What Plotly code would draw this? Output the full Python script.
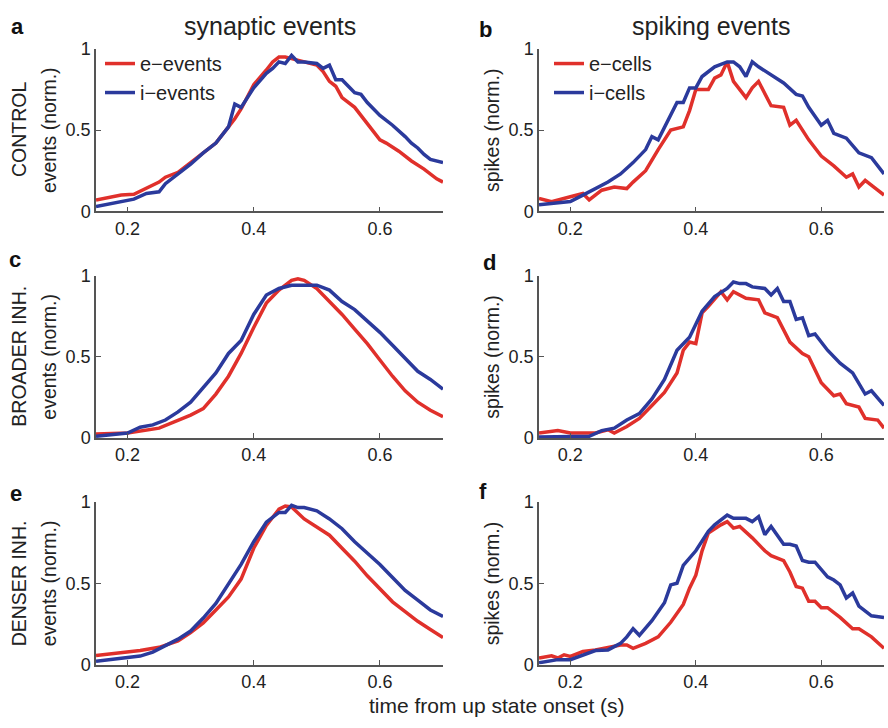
import plotly.graph_objects as go
from plotly.subplots import make_subplots

# ---------------- data ----------------
# panel a (CONTROL, synaptic events)
a_e_x = [0.15, 0.17, 0.19, 0.21, 0.23, 0.25, 0.26, 0.28, 0.30, 0.32, 0.34, 0.36, 0.37, 0.38, 0.40, 0.42, 0.43, 0.44, 0.45, 0.46, 0.47, 0.49, 0.50, 0.51, 0.52, 0.53, 0.54, 0.56, 0.58, 0.60, 0.61, 0.63, 0.65, 0.67, 0.69, 0.70]
a_e_y = [0.07, 0.085, 0.10, 0.105, 0.14, 0.18, 0.21, 0.24, 0.30, 0.36, 0.42, 0.52, 0.57, 0.63, 0.78, 0.87, 0.92, 0.95, 0.95, 0.94, 0.93, 0.91, 0.90, 0.86, 0.80, 0.77, 0.70, 0.64, 0.54, 0.44, 0.42, 0.37, 0.31, 0.26, 0.20, 0.18]
a_i_x = [0.15, 0.17, 0.19, 0.21, 0.23, 0.25, 0.26, 0.28, 0.30, 0.32, 0.34, 0.36, 0.37, 0.38, 0.40, 0.42, 0.43, 0.44, 0.45, 0.46, 0.47, 0.48, 0.50, 0.51, 0.52, 0.53, 0.54, 0.55, 0.56, 0.57, 0.58, 0.60, 0.62, 0.64, 0.65, 0.66, 0.67, 0.68, 0.69, 0.70]
a_i_y = [0.03, 0.045, 0.06, 0.075, 0.11, 0.12, 0.17, 0.23, 0.29, 0.36, 0.42, 0.52, 0.66, 0.64, 0.76, 0.85, 0.88, 0.92, 0.91, 0.96, 0.92, 0.92, 0.91, 0.88, 0.90, 0.81, 0.81, 0.77, 0.73, 0.72, 0.67, 0.59, 0.53, 0.46, 0.42, 0.39, 0.35, 0.32, 0.31, 0.30]

# panel b (CONTROL, spiking events)
b_e_x = [0.15, 0.17, 0.20, 0.22, 0.23, 0.25, 0.27, 0.29, 0.30, 0.32, 0.34, 0.36, 0.38, 0.39, 0.40, 0.42, 0.43, 0.44, 0.45, 0.46, 0.48, 0.49, 0.50, 0.52, 0.54, 0.55, 0.56, 0.58, 0.60, 0.62, 0.64, 0.65, 0.66, 0.67, 0.69, 0.70]
b_e_y = [0.08, 0.06, 0.09, 0.11, 0.07, 0.13, 0.15, 0.14, 0.18, 0.25, 0.38, 0.50, 0.52, 0.62, 0.75, 0.75, 0.82, 0.84, 0.92, 0.80, 0.70, 0.76, 0.80, 0.65, 0.64, 0.53, 0.56, 0.44, 0.34, 0.28, 0.21, 0.23, 0.15, 0.19, 0.13, 0.10]
b_i_x = [0.15, 0.18, 0.20, 0.22, 0.24, 0.26, 0.28, 0.30, 0.32, 0.33, 0.34, 0.36, 0.37, 0.38, 0.39, 0.40, 0.41, 0.43, 0.45, 0.46, 0.47, 0.48, 0.49, 0.50, 0.52, 0.54, 0.56, 0.57, 0.58, 0.60, 0.61, 0.62, 0.64, 0.66, 0.68, 0.69, 0.70]
b_i_y = [0.04, 0.05, 0.06, 0.10, 0.14, 0.18, 0.23, 0.30, 0.38, 0.46, 0.44, 0.60, 0.67, 0.67, 0.76, 0.76, 0.83, 0.89, 0.92, 0.92, 0.89, 0.83, 0.92, 0.89, 0.84, 0.79, 0.72, 0.71, 0.64, 0.53, 0.56, 0.48, 0.45, 0.36, 0.33, 0.28, 0.23]

# panel c (BROADER INH., synaptic events)
c_e_x = [0.15, 0.20, 0.25, 0.28, 0.30, 0.32, 0.34, 0.36, 0.38, 0.40, 0.42, 0.44, 0.46, 0.47, 0.48, 0.50, 0.52, 0.54, 0.56, 0.58, 0.60, 0.62, 0.64, 0.66, 0.68, 0.70]
c_e_y = [0.024, 0.03, 0.06, 0.11, 0.14, 0.18, 0.27, 0.38, 0.52, 0.68, 0.83, 0.91, 0.97, 0.98, 0.97, 0.92, 0.84, 0.76, 0.67, 0.58, 0.48, 0.38, 0.29, 0.22, 0.17, 0.13]
c_i_x = [0.15, 0.20, 0.22, 0.24, 0.26, 0.28, 0.30, 0.32, 0.34, 0.36, 0.38, 0.40, 0.42, 0.44, 0.46, 0.48, 0.50, 0.52, 0.54, 0.56, 0.58, 0.60, 0.62, 0.64, 0.66, 0.68, 0.70]
c_i_y = [0.01, 0.03, 0.066, 0.08, 0.11, 0.16, 0.22, 0.31, 0.40, 0.52, 0.60, 0.76, 0.88, 0.92, 0.94, 0.94, 0.94, 0.91, 0.84, 0.79, 0.72, 0.65, 0.57, 0.49, 0.41, 0.36, 0.30]

# panel d (BROADER INH., spiking events)
d_e_x = [0.15, 0.18, 0.20, 0.22, 0.24, 0.26, 0.27, 0.29, 0.31, 0.33, 0.35, 0.37, 0.38, 0.39, 0.40, 0.41, 0.42, 0.44, 0.45, 0.46, 0.48, 0.50, 0.51, 0.53, 0.55, 0.57, 0.58, 0.60, 0.62, 0.63, 0.64, 0.66, 0.67, 0.69, 0.70]
d_e_y = [0.03, 0.045, 0.03, 0.03, 0.03, 0.05, 0.03, 0.07, 0.12, 0.20, 0.28, 0.40, 0.54, 0.59, 0.58, 0.77, 0.81, 0.90, 0.85, 0.90, 0.86, 0.85, 0.77, 0.74, 0.59, 0.52, 0.50, 0.34, 0.26, 0.27, 0.21, 0.19, 0.12, 0.11, 0.06]
d_i_x = [0.15, 0.20, 0.23, 0.25, 0.27, 0.29, 0.31, 0.33, 0.35, 0.37, 0.39, 0.41, 0.43, 0.45, 0.46, 0.47, 0.48, 0.49, 0.51, 0.52, 0.53, 0.54, 0.55, 0.56, 0.57, 0.58, 0.59, 0.61, 0.63, 0.65, 0.67, 0.68, 0.70]
d_i_y = [0.006, 0.01, 0.01, 0.045, 0.06, 0.11, 0.15, 0.24, 0.36, 0.54, 0.62, 0.78, 0.87, 0.92, 0.96, 0.95, 0.95, 0.93, 0.92, 0.88, 0.92, 0.84, 0.84, 0.73, 0.74, 0.63, 0.64, 0.54, 0.46, 0.40, 0.27, 0.29, 0.20]

# panel e (DENSER INH., synaptic events)
e_e_x = [0.15, 0.18, 0.20, 0.22, 0.25, 0.28, 0.30, 0.32, 0.34, 0.36, 0.38, 0.40, 0.42, 0.44, 0.45, 0.46, 0.48, 0.50, 0.52, 0.54, 0.56, 0.58, 0.60, 0.62, 0.64, 0.66, 0.68, 0.70]
e_e_y = [0.056, 0.07, 0.076, 0.086, 0.106, 0.146, 0.196, 0.256, 0.336, 0.416, 0.526, 0.716, 0.856, 0.956, 0.976, 0.97, 0.896, 0.846, 0.796, 0.716, 0.636, 0.546, 0.466, 0.386, 0.326, 0.266, 0.216, 0.166]
e_i_x = [0.15, 0.18, 0.20, 0.22, 0.24, 0.26, 0.28, 0.30, 0.32, 0.34, 0.36, 0.38, 0.40, 0.42, 0.44, 0.45, 0.46, 0.47, 0.48, 0.50, 0.52, 0.54, 0.56, 0.58, 0.60, 0.62, 0.64, 0.66, 0.68, 0.70]
e_i_y = [0.02, 0.032, 0.04, 0.052, 0.076, 0.116, 0.156, 0.206, 0.286, 0.376, 0.496, 0.616, 0.756, 0.876, 0.936, 0.936, 0.98, 0.966, 0.966, 0.946, 0.896, 0.836, 0.756, 0.686, 0.616, 0.536, 0.456, 0.396, 0.336, 0.296]

# panel f (DENSER INH., spiking events)
f_e_x = [0.15, 0.17, 0.18, 0.19, 0.20, 0.22, 0.24, 0.26, 0.28, 0.29, 0.30, 0.32, 0.34, 0.36, 0.38, 0.39, 0.40, 0.41, 0.42, 0.44, 0.45, 0.46, 0.47, 0.49, 0.51, 0.52, 0.54, 0.55, 0.56, 0.57, 0.58, 0.59, 0.60, 0.61, 0.63, 0.65, 0.66, 0.68, 0.70]
f_e_y = [0.04, 0.054, 0.04, 0.06, 0.05, 0.08, 0.09, 0.106, 0.12, 0.12, 0.10, 0.13, 0.17, 0.26, 0.37, 0.47, 0.55, 0.70, 0.81, 0.86, 0.88, 0.84, 0.85, 0.78, 0.70, 0.67, 0.64, 0.57, 0.48, 0.47, 0.39, 0.39, 0.35, 0.35, 0.29, 0.22, 0.22, 0.17, 0.10]
f_i_x = [0.15, 0.18, 0.20, 0.22, 0.24, 0.26, 0.28, 0.29, 0.30, 0.31, 0.33, 0.35, 0.36, 0.37, 0.38, 0.40, 0.42, 0.43, 0.45, 0.46, 0.48, 0.49, 0.50, 0.51, 0.52, 0.54, 0.55, 0.56, 0.57, 0.58, 0.59, 0.61, 0.62, 0.63, 0.64, 0.65, 0.66, 0.68, 0.70]
f_i_y = [0.01, 0.03, 0.03, 0.06, 0.086, 0.09, 0.13, 0.17, 0.22, 0.18, 0.27, 0.38, 0.49, 0.50, 0.61, 0.70, 0.82, 0.86, 0.92, 0.90, 0.90, 0.88, 0.91, 0.80, 0.85, 0.74, 0.74, 0.73, 0.64, 0.63, 0.63, 0.54, 0.52, 0.49, 0.41, 0.44, 0.36, 0.30, 0.29]

series_names_left = ["e−events", "i−events"]
series_names_right = ["e−cells", "i−cells"]
row_labels = ["CONTROL", "BROADER INH.", "DENSER INH."]
col_titles = ["synaptic events", "spiking events"]
y_titles = ["events (norm.)", "spikes (norm.)"]
panel_letters = ["a", "b", "c", "d", "e", "f"]
x_tickvals = [0.2, 0.4, 0.6]
x_ticktext = ["0.2", "0.4", "0.6"]
y_tickvals = [0, 0.5, 1]
y_ticktext = ["0", "0.5", "1"]
x_title = "time from up state onset (s)"

# ---------------- figure ----------------
W, H = 888, 728
RED = "#e0302b"
BLUE = "#2b3a9c"
FONT = "Liberation Sans, Arial, Helvetica, sans-serif"
TXT = "#222222"

fig = make_subplots(rows=3, cols=2)

panels = [
    (1, 1, a_e_x, a_e_y, a_i_x, a_i_y),
    (1, 2, b_e_x, b_e_y, b_i_x, b_i_y),
    (2, 1, c_e_x, c_e_y, c_i_x, c_i_y),
    (2, 2, d_e_x, d_e_y, d_i_x, d_i_y),
    (3, 1, e_e_x, e_e_y, e_i_x, e_i_y),
    (3, 2, f_e_x, f_e_y, f_i_x, f_i_y),
]

for (r, c, ex, ey, ix, iy) in panels:
    names = series_names_left if c == 1 else series_names_right
    first = (r == 1)
    leg = "legend" if c == 1 else "legend2"
    fig.add_trace(go.Scatter(x=ex, y=ey, mode="lines", name=names[0],
                             line=dict(color=RED, width=3.5),
                             showlegend=first, legend=leg), row=r, col=c)
    fig.add_trace(go.Scatter(x=ix, y=iy, mode="lines", name=names[1],
                             line=dict(color=BLUE, width=3.5),
                             showlegend=first, legend=leg), row=r, col=c)

# pixel layout of axes
col_px = [(96, 443), (539, 884)]
row_px = [(40, 207), (273, 440), (506, 673)]

def px2x(p):
    return p / W

def px2y(p):
    return 1 - p / H

for r in range(3):
    for c in range(2):
        idx = r * 2 + c + 1
        sfx = "" if idx == 1 else str(idx)
        x0, x1 = col_px[c]
        y0, y1 = row_px[r]
        fig.layout["xaxis" + sfx].update(
            domain=[px2x(x0), px2x(x1)], range=[0.15, 0.7],
            tickvals=x_tickvals, ticktext=x_ticktext,
            ticks="inside", ticklen=5, tickwidth=1, tickcolor="#555",
            showline=True, linecolor="#555", linewidth=1.5,
            showgrid=False, zeroline=False,
            tickfont=dict(family=FONT, size=18, color=TXT))
        fig.layout["yaxis" + sfx].update(
            domain=[px2y(y1), px2y(y0)], range=[0, 1],
            tickvals=y_tickvals, ticktext=y_ticktext,
            ticks="inside", ticklen=5, tickwidth=1, tickcolor="#555",
            showline=True, linecolor="#555", linewidth=1.5,
            showgrid=False, zeroline=False,
            tickfont=dict(family=FONT, size=18, color=TXT))

ann = []
# column titles
ann.append(dict(text=col_titles[0], x=px2x(270), y=px2y(16)))
ann.append(dict(text=col_titles[1], x=px2x(711), y=px2y(16)))
for a in ann:
    a.update(font=dict(family=FONT, size=25, color=TXT))

# panel letters
letter_pos = [(17, 17), (486, 20), (15, 257), (489, 260), (16, 497), (483, 495)]
for L, (px, py) in zip(panel_letters, letter_pos):
    ann.append(dict(text="<b>" + L + "</b>", x=px2x(px), y=px2y(py),
                    font=dict(family=FONT, size=22, color="#111")))

# row labels and y titles
for r in range(3):
    yc = (row_px[r][0] + row_px[r][1]) / 2
    ann.append(dict(text=row_labels[r], x=px2x(19), y=px2y(yc), textangle=-90,
                    font=dict(family=FONT, size=19.5, color=TXT)))
    ann.append(dict(text=y_titles[0], x=px2x(49), y=px2y(yc), textangle=-90,
                    font=dict(family=FONT, size=19.5, color=TXT)))
    ann.append(dict(text=y_titles[1], x=px2x(492), y=px2y(yc), textangle=-90,
                    font=dict(family=FONT, size=19.5, color=TXT)))

# x title
ann.append(dict(text=x_title, x=px2x(497), y=px2y(715),
                font=dict(family=FONT, size=21, color=TXT)))

for a in ann:
    a.update(xref="paper", yref="paper", showarrow=False,
             xanchor="center", yanchor="middle")

legend_style = dict(bgcolor="rgba(0,0,0,0)", borderwidth=0,
                    font=dict(family=FONT, size=20, color=TXT),
                    xanchor="left", yanchor="top", tracegroupgap=0,
                    itemclick=False, itemdoubleclick=False)

fig.update_layout(
    width=W, height=H,
    margin=dict(l=0, r=0, t=0, b=0),
    paper_bgcolor="white", plot_bgcolor="white",
    annotations=ann,
    legend=dict(x=px2x(100), y=px2y(35), **legend_style),
    legend2=dict(x=px2x(549), y=px2y(35), **legend_style),
)

fig.write_html("out.html")
